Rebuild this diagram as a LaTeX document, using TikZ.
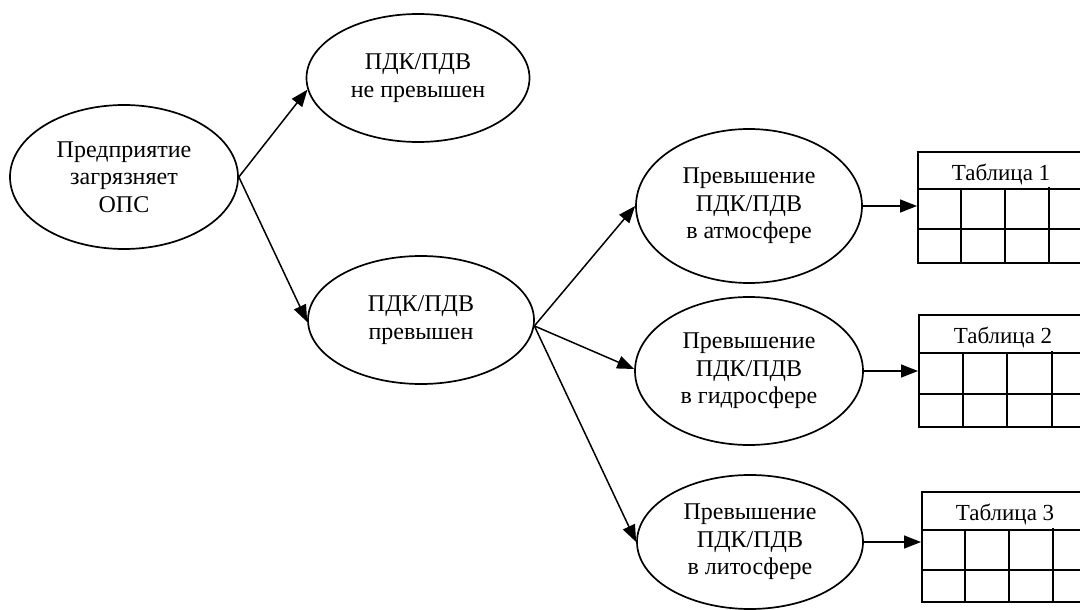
\documentclass[tikz,border=0pt]{standalone}
\usepackage{fontspec}
\setmainfont{Liberation Serif}
\usetikzlibrary{shapes.geometric,arrows.meta}
\begin{document}
\begin{tikzpicture}[x=1pt,y=-1pt,
  ell/.style={draw, ellipse, line width=1.7pt, inner sep=0pt, align=center,
    font=\fontsize{24}{27.5}\selectfont},
  arr/.style={-{Triangle[length=17pt,width=13pt]}, line width=1.5pt},
  tabbox/.style={draw, rectangle, line width=2pt, inner sep=0pt, anchor=north west},
  tabline/.style={line width=2pt},
  tabtitle/.style={font=\fontsize{23}{26}\selectfont, inner sep=0pt}]
\useasboundingbox (0,0) rectangle (1080,610);
\clip (0,0) rectangle (1080,610);

\node[ell, minimum width=228pt, minimum height=144pt] (e1) at (124,177)
  {Предприятие\\загрязняет\\ОПС};
\node[ell, minimum width=223pt, minimum height=128pt] (e2) at (418,78)
  {ПДК/ПДВ\\не превышен};
\node[ell, minimum width=226pt, minimum height=128pt] (e3) at (421,320)
  {ПДК/ПДВ\\превышен};
\node[ell, minimum width=226pt, minimum height=154pt] (e4) at (749,206)
  {Превышение\\ПДК/ПДВ\\в атмосфере};
\node[ell, minimum width=228pt, minimum height=148pt] (e5) at (749,371)
  {Превышение\\ПДК/ПДВ\\в гидросфере};
\node[ell, minimum width=226pt, minimum height=134pt] (e6) at (750,542)
  {Превышение\\ПДК/ПДВ\\в литосфере};

% tables
\node[tabbox, minimum width=200pt, minimum height=111pt] (t1) at (917,151) {};
\node[tabtitle] (h1) at (1001,174) {Таблица 1};
\draw[tabline] (917,189) -- (1100,189) (917,229) -- (1100,229)
  (961,189) -- (961,262) (1005,189) -- (1005,262) (1049,187) -- (1049,262);

\node[tabbox, minimum width=200pt, minimum height=112pt] (t2) at (918,314) {};
\node[tabtitle] (h2) at (1003,337) {Таблица 2};
\draw[tabline] (918,353) -- (1100,353) (918,394) -- (1100,394)
  (963,353) -- (963,426) (1007,353) -- (1007,426) (1052,351) -- (1052,426);

\node[tabbox, minimum width=200pt, minimum height=110pt] (t3) at (921,491) {};
\node[tabtitle] (h3) at (1005,514) {Таблица 3};
\draw[tabline] (921,530) -- (1100,530) (921,570) -- (1100,570)
  (965,530) -- (965,601) (1009,530) -- (1009,601) (1053,528) -- (1053,601);

% connectors
\draw[arr] (e1.east) -- (e2.186);
\draw[arr] (e1.east) -- (e3.181);
\draw[arr] (e3.357) -- (e4.west);
\draw[arr] (e3.357) -- (e5.179);
\draw[arr] (e3.357) -- (e6.west);
\draw[arr] (e4.east) -- (e4.east -| t1.west);
\draw[arr] (e5.east) -- (e5.east -| t2.west);
\draw[arr] (e6.east) -- (e6.east -| t3.west);
\end{tikzpicture}
\end{document}
